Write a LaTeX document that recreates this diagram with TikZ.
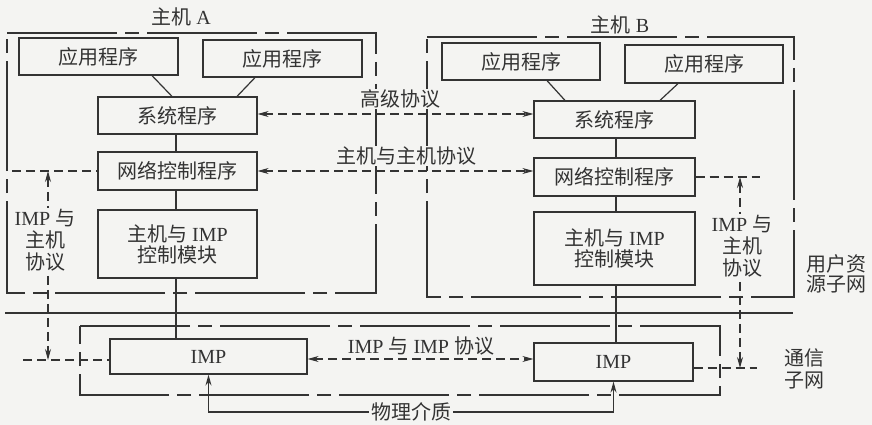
\documentclass[tikz,border=0pt]{standalone}
\usepackage{fontspec}
\setmainfont{Liberation Serif}
\newfontfamily\zhfont{Noto Sans CJK SC}
\newcommand{\zh}[1]{{\zhfont #1}}
\usetikzlibrary{arrows.meta}
\definecolor{ink}{HTML}{333333}
\definecolor{bgc}{HTML}{F4F4F2}
\tikzset{
  box/.style={draw=ink, line width=1.2pt, inner sep=0pt, text=ink},
  dsh/.style={draw=ink, line width=1.1pt, dash pattern=on 9pt off 5pt},
  hostline/.style={draw=ink, line width=1.2pt, dash pattern=on 110pt off 8pt on 14pt off 8pt},
  solidline/.style={draw=ink, line width=1.2pt},
  arrowone/.style={-{Stealth[length=11pt,width=6pt]}},
  arrowboth/.style={{Stealth[length=11pt,width=6pt]}-{Stealth[length=11pt,width=6pt]}},
  lbl/.style={text=ink, inner sep=1pt},
  every node/.style={font=\fontsize{20pt}{21pt}\selectfont},
}
\begin{document}
\begin{tikzpicture}[x=1pt,y=-1pt]
\fill[bgc] (0,0) rectangle (872,425);
\useasboundingbox (0,0) rectangle (872,425);

% host outlines
\draw[hostline] (7,33) -- (376,33) -- (376,293) -- (7,293) -- cycle;
\draw[hostline] (427,37) -- (794,37) -- (794,297) -- (427,297) -- cycle;
% communication subnet outline
\draw[hostline] (80,326) -- (720,326) -- (720,395) -- (80,395) -- cycle;
% dividing line
\coordinate (m1) at (5,313);
\coordinate (m2) at (793,313);
\draw[solidline] (m1) -- (m2);

% host A boxes
\node[box, minimum width=159pt, minimum height=37pt] (appA1) at (98.5,56.5) {\zh{应用程序}};
\node[box, minimum width=159pt, minimum height=37pt] (appA2) at (282.5,58.5) {\zh{应用程序}};
\node[box, minimum width=159pt, minimum height=37pt] (sysA) at (177.5,115.5) {\zh{系统程序}};
\node[box, minimum width=159pt, minimum height=38pt] (netA) at (177.5,171) {\zh{网络控制程序}};
\node[box, minimum width=159pt, minimum height=68pt, align=center] (modA) at (177.5,244) {\zh{主机与} IMP\\\zh{控制模块}};
\node[box, minimum width=197pt, minimum height=35pt] (impA) at (208.5,356.5) {IMP};

% host B boxes
\node[box, minimum width=158pt, minimum height=37pt] (appB1) at (521,61.5) {\zh{应用程序}};
\node[box, minimum width=158pt, minimum height=38pt] (appB2) at (704,64) {\zh{应用程序}};
\node[box, minimum width=161pt, minimum height=37pt] (sysB) at (614.5,119.5) {\zh{系统程序}};
\node[box, minimum width=161pt, minimum height=38pt] (netB) at (614.5,177) {\zh{网络控制程序}};
\node[box, minimum width=161pt, minimum height=73pt, align=center] (modB) at (614.5,248.5) {\zh{主机与} IMP\\\zh{控制模块}};
\node[box, minimum width=159pt, minimum height=38pt] (impB) at (613.5,362) {IMP};

% host A internal lines
\draw[solidline] (appA1.south -| 152,0) -- (sysA.north -| 172,0);
\draw[solidline] (appA2.south -| 255,0) -- (sysA.north -| 237,0);
\draw[solidline] (sysA.south -| 176,0) -- (netA.north -| 176,0);
\draw[solidline] (netA.south -| 176,0) -- (modA.north -| 176,0);
\draw[solidline] (modA.south -| 176,0) -- (impA.north -| 176,0);

% host B internal lines
\draw[solidline] (appB1.south -| 547,0) -- (sysB.north -| 565,0);
\draw[solidline] (appB2.south -| 678,0) -- (sysB.north -| 660,0);
\draw[solidline] (sysB.south -| 616,0) -- (netB.north -| 616,0);
\draw[solidline] (netB.south -| 616,0) -- (modB.north -| 616,0);
\draw[solidline] (modB.south -| 616,0) -- (impB.north -| 616,0);

% peer protocols
\draw[dsh, arrowboth] (sysA.east |- 0,114) -- (sysB.west |- 0,114);
\draw[dsh, arrowboth] (netA.east |- 0,171) -- (netB.west |- 0,171);
\draw[dsh, arrowboth] (impA.east |- 0,359) -- (impB.west |- 0,359);
\node[lbl, fill=bgc] (hl) at (400,99) {\zh{高级协议}};
\node[lbl, fill=bgc] (hh) at (406,156) {\zh{主机与主机协议}};
\node[lbl] (ii) at (421,346) {IMP \zh{与} IMP \zh{协议}};

% left IMP-host protocol
\coordinate (lt) at (12,171);
\coordinate (lb) at (23,360);
\coordinate (lv1) at (48,171);
\coordinate (lv2) at (48,360);
\draw[dsh] (lt) -- (netA.west);
\draw[dsh] (lb) -- (impA.west |- lb);
\draw[dsh, arrowboth] (lv1) -- (lv2);
\node[lbl, fill=bgc, align=center, font=\fontsize{20pt}{22pt}\selectfont] (lA) at (45,240) {IMP \zh{与}\\\zh{主机}\\\zh{协议}};

% right IMP-host protocol
\coordinate (rt) at (760,177);
\coordinate (rb) at (757,368);
\coordinate (rv1) at (740,177);
\coordinate (rv2) at (740,368);
\draw[dsh] (netB.east) -- (rt);
\draw[dsh] (impB.east |- rb) -- (rb);
\draw[dsh, arrowboth] (rv1) -- (rv2);
\node[lbl, fill=bgc, align=center, font=\fontsize{20pt}{22pt}\selectfont] (lB) at (742,246) {IMP \zh{与}\\\zh{主机}\\\zh{协议}};

% physical medium
\node[lbl, inner sep=2pt] (phys) at (411,412) {\zh{物理介质}};
\draw[solidline, arrowone] (phys.west) -| (impA.south);
\draw[solidline, arrowone] (phys.east) -| (impB.south);

% titles
\node[lbl] (tA) at (181,17) {\zh{主机} A};
\node[lbl] (tB) at (620,25) {\zh{主机} B};
\node[lbl, align=center, font=\fontsize{20pt}{20pt}\selectfont] (user) at (836,274) {\zh{用户资}\\\zh{源子网}};
\node[lbl, align=center, font=\fontsize{20pt}{22pt}\selectfont] (comm) at (804,369) {\zh{通信}\\\zh{子网}};
\end{tikzpicture}
\end{document}
